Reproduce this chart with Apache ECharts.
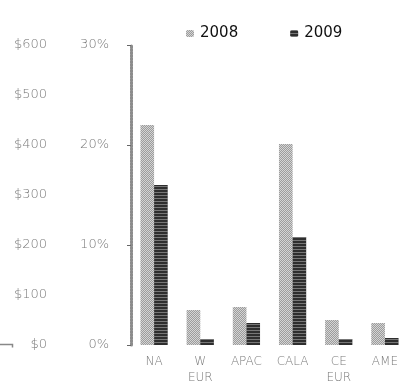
<!DOCTYPE html>
<html>
<head>
<meta charset="utf-8">
<script src="https://cdn.jsdelivr.net/npm/echarts@6/dist/echarts.min.js"></script>
<style>
  html, body { margin: 0; padding: 0; background: #fff; }
  #chart { width: 403px; height: 383px; }
</style>
</head>
<body>
<div id="chart"></div>
<script>
// Regions and yearly share (%) per region
const regions = ['NA', 'W\nEUR', 'APAC', 'CALA', 'CE\nEUR', 'AME'];
const share2008 = [22.0, 3.5, 3.8, 20.1, 2.5, 2.2];
const share2009 = [16.0, 0.6, 2.2, 10.8, 0.6, 0.7];
const seriesNames = ['2008', '2009'];
const pctTicks = ['0%', '10%', '20%', '30%'];
const dollarTicks = ['$0', '$100', '$200', '$300', '$400', '$500', '$600'];

const labelFont = { color: '#7a7a7a', fontFamily: 'DejaVu Sans', fontSize: 13, fontWeight: 300 };

const chart = echarts.init(document.getElementById('chart'), null, { renderer: 'canvas' });
chart.setOption({
  animation: false,
  backgroundColor: '#fff',
  legend: {
    data: seriesNames,
    top: 21,
    left: 181,
    itemWidth: 8,
    itemHeight: 7,
    itemGap: 52,
    textStyle: { color: '#111', fontFamily: 'DejaVu Sans', fontSize: 15, padding: [0, 0, 0, 1] }
  },
  grid: { left: 131, right: -5, top: 45, bottom: 38, containLabel: false, outerBoundsMode: 'none' },
  xAxis: {
    type: 'category',
    data: regions,
    axisLine: { show: false },
    axisTick: { show: false },
    axisLabel: Object.assign({ margin: 9, lineHeight: 16, interval: 0 }, labelFont, { fontSize: 12 })
  },
  yAxis: [
    {
      type: 'value',
      min: 0, max: 30, interval: 10,
      axisLine: { show: true, lineStyle: { color: '#8c8c8c', width: 3, type: [2, 1] } },
      axisTick: { show: true, inside: false, length: 4, lineStyle: { color: '#666', width: 1 } },
      splitLine: { show: false },
      axisLabel: Object.assign({
        margin: 22,
        formatter: v => pctTicks[Math.round(v / 10)]
      }, labelFont)
    },
    {
      type: 'value',
      position: 'left',
      offset: 61,
      min: 0, max: 600, interval: 100,
      axisLine: { show: false },
      axisTick: { show: false },
      splitLine: { show: false },
      axisLabel: Object.assign({
        margin: 23,
        formatter: v => dollarTicks[Math.round(v / 100)]
      }, labelFont)
    }
  ],
  series: [
    {
      name: seriesNames[0],
      type: 'bar',
      data: share2008,
      barGap: '0%',
      barCategoryGap: '41%',
      itemStyle: {
        color: '#d4d4d4',
        decal: {
          symbol: 'rect',
          symbolSize: 1,
          dashArrayX: [[1, 1], [0, 1, 1, 0]],
          dashArrayY: [1, 0],
          color: 'rgba(110,110,110,0.55)',
          rotation: 0
        }
      }
    },
    {
      name: seriesNames[1],
      type: 'bar',
      data: share2009,
      itemStyle: {
        color: '#2e2e2e',
        decal: {
          symbol: 'rect',
          symbolSize: 1,
          dashArrayX: [1, 0],
          dashArrayY: [1, 2],
          color: 'rgba(255,255,255,0.35)',
          rotation: 0
        }
      }
    }
  ],
  graphic: [
    {
      type: 'polyline',
      shape: { points: [[0, 344.5], [12.5, 344.5], [12.5, 347.5]] },
      style: { stroke: '#888', lineWidth: 1.5, fill: null }
    }
  ]
});
</script>
</body>
</html>
